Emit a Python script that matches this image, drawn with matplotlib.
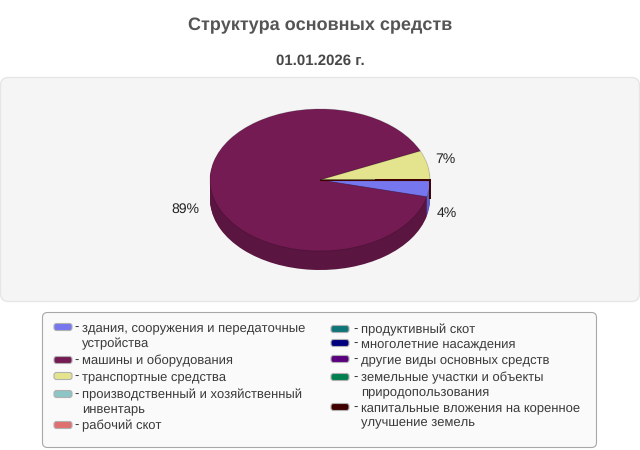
#!/usr/bin/env python3
"""Pie chart of fixed assets structure, drawn tilted with a fake 3D side."""

import numpy as np
import matplotlib
matplotlib.use("Agg")
import matplotlib.pyplot as plt
from matplotlib.patches import FancyBboxPatch

plt.rcParams["font.family"] = ["Liberation Sans", "DejaVu Sans"]
plt.rcParams["text.hinting"] = "no_hinting"
plt.rcParams["text.hinting_factor"] = 1

# ── Data ---------------------------------------------------------------------
title = "Структура основных средств"
subtitle = "01.01.2026 г."

categories = [
    ["здания, сооружения и передаточные", "устройства"],
    ["машины и оборудования"],
    ["транспортные средства"],
    ["производственный и хозяйственный", "инвентарь"],
    ["рабочий скот"],
    ["продуктивный скот"],
    ["многолетние насаждения"],
    ["другие виды основных средств"],
    ["земельные участки и объекты", "природопользования"],
    ["капитальные вложения на коренное", "улучшение земель"],
]
values = [3.8, 89.5, 6.7, 0, 0, 0, 0, 0, 0, 0]
colors = ["#7677ee", "#741b54", "#e5e48e", "#8cc5c6", "#e07070",
          "#0f7578", "#00007f", "#5a007f", "#007f4f", "#3f0000"]
side_colors = ["#5d5ec0", "#5a1540", "#b5b46e", "#6e9b9c", "#b05858",
               "#0b5c5e", "#000064", "#470064", "#00643e", "#320000"]
pct_labels = {"7%": (445, 158), "4%": (447, 212), "89%": (185, 208)}

# legend text lines: y in pixels for every line of every entry
left_rows = [[327, 343], [360], [376], [394, 408], [425]]
right_rows = [[329], [343], [359], [377, 391], [407, 421]]

# ── Layout (pixels) ----------------------------------------------------------
W, H = 640, 450
cx, cy, rx, ry, depth = 320, 180, 110, 71, 19

fig = plt.figure(figsize=(W / 100, H / 100), dpi=100, facecolor="white")
bg = fig.add_axes([0, 0, 1, 1])
bg.set_xlim(0, W)
bg.set_ylim(H, 0)
bg.axis("off")

bg.text(320, 30, title, ha="center", va="baseline", fontsize=12.7,
        fontweight="bold", color="#555555")
bg.text(320, 65, subtitle, ha="center", va="baseline", fontsize=10.5,
        fontweight="bold", color="#484848")

bg.add_patch(FancyBboxPatch((0.5, 77.5), 639, 224, boxstyle="round,pad=0,rounding_size=8",
                            fc="#f5f5f5", ec="#e6e6e6", lw=1))
bg.add_patch(FancyBboxPatch((42.5, 312.5), 554, 135, boxstyle="round,pad=0,rounding_size=5",
                            fc="#fafafa", ec="#a8a8a8", lw=0.8))

# ── Pie ----------------------------------------------------------------------
pie_ax = fig.add_axes([(cx - 1.25 * rx) / W, 1 - (cy + 1.5 * ry) / H,
                       2.5 * rx / W, 3 * ry / H], zorder=2)
for d in np.arange(depth, 0, -1) / ry:
    pie_ax.pie(values, colors=side_colors, startangle=0, counterclock=False,
               center=(0, -d), wedgeprops={"linewidth": 0})
wedges, _ = pie_ax.pie(values, colors=colors, startangle=0, counterclock=False,
                       wedgeprops={"linewidth": 0.6, "edgecolor": "#00000030"})
pie_ax.set_aspect("auto")
pie_ax.set_xlim(-1.25, 1.25)
pie_ax.set_ylim(-1.5, 1.5)
pie_ax.patch.set_alpha(0)

# the empty slice at the end of the series shows up as a dark seam
pie_ax.plot([0, 1], [0, 0], color=colors[-1], lw=0.8, solid_capstyle="butt")
pie_ax.plot([0.5, 1, 1], [0, 0, -depth / ry], color=colors[-1], lw=1.4,
            solid_joinstyle="miter", solid_capstyle="butt")

for lab, (x, y) in pct_labels.items():
    bg.text(x, y + 5, lab, ha="center", va="baseline", fontsize=10, color="#222222", zorder=5)

# ── Legend -------------------------------------------------------------------
def draw_legend_col(names, cols, rows, x_swatch, x_dash, x_text):
    for name, col, ys in zip(names, cols, rows):
        bg.add_patch(FancyBboxPatch((x_swatch, ys[0] - 3.5), 18, 7,
                                    boxstyle="round,pad=0,rounding_size=2.5",
                                    fc=col, ec="#b0b0b0", lw=0.8))
        bg.text(x_dash, ys[0] + 4, "-", ha="left", va="baseline", fontsize=9.5, color="#3a3a3a")
        for line, y in zip(name, ys):
            bg.text(x_text, y + 4, line, ha="left", va="baseline", fontsize=9.5, color="#3a3a3a")


draw_legend_col(categories[:5], colors[:5], left_rows, 54, 74, 82)
draw_legend_col(categories[5:], colors[5:], right_rows, 331, 353, 361)

fig.savefig("out.png", dpi=100)
